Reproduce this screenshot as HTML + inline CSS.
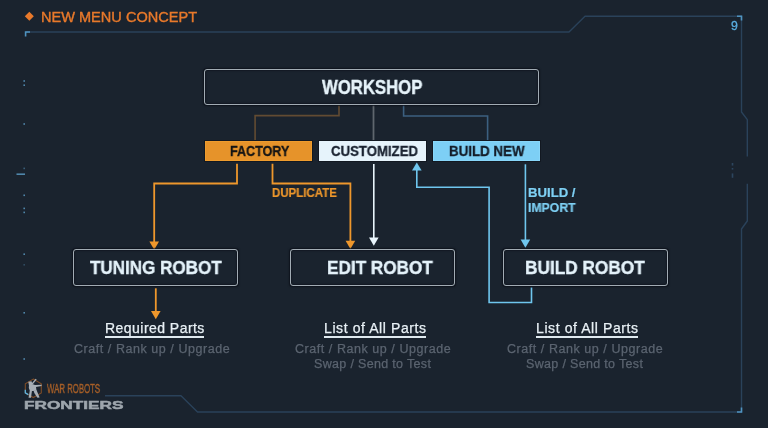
<!DOCTYPE html>
<html><head><meta charset="utf-8">
<style>
html,body{margin:0;padding:0;}
body{width:768px;height:428px;background:#1a232e;position:relative;overflow:hidden;font-family:"Liberation Sans",sans-serif;}
svg{position:absolute;left:0;top:0;}
.t{position:absolute;white-space:nowrap;line-height:1;will-change:transform;}
.b{font-weight:bold;}
.box{position:absolute;box-sizing:border-box;border:1.6px solid #a2acb4;border-radius:3px;box-shadow:0 0 1.5px 0.5px rgba(8,12,20,0.7), inset 0 0 1.5px 0.5px rgba(8,12,20,0.7);}
.tag{position:absolute;box-sizing:border-box;}
</style></head><body>
<svg width="768" height="428" viewBox="0 0 768 428">
  <!-- frame -->
  <g fill="none" stroke="#2a425a" stroke-width="1.4" stroke-linejoin="round">
    <path d="M26,32 H569 L585,16.3 H741.5 V112 L747.3,119.7 V156.5"/>
    <path d="M747.3,183.8 V221 L741.5,229 V412 H197.5 L181,395.8 H105"/>
  </g>
  <g fill="none" stroke="#4f93c0" stroke-width="1.6">
    <path d="M25.6,36.5 V32 H30"/>
    <path d="M737,16.3 H741.5 V20.5"/>
    <path d="M737,412 H741.5 V407.5"/>
  </g>
  <!-- left dots -->
  <g fill="#4f86aa">
    <rect x="23.4" y="80.2" width="1.6" height="1.6"/>
    <rect x="23.4" y="84.4" width="1.6" height="1.6"/>
    <rect x="23.4" y="123.2" width="1.6" height="1.6"/>
    <rect x="23.4" y="167.6" width="1.6" height="1.6" opacity="0.6"/>
    <rect x="16.5" y="173.4" width="8.5" height="1.6"/>
    <rect x="23.4" y="194.5" width="1.6" height="1.6"/>
    <rect x="23.4" y="207.6" width="1.6" height="1.6"/>
    <rect x="23.4" y="211.6" width="1.6" height="1.6"/>
    <rect x="23.4" y="253.4" width="1.6" height="1.6"/>
    <rect x="23.4" y="264" width="1.6" height="1.6" opacity="0.4"/>
    <rect x="23.4" y="312" width="1.6" height="1.6"/>
    <rect x="23.4" y="358.2" width="1.6" height="1.6"/>
  </g>
  <!-- right markers -->
  <g fill="#2c455e">
    <rect x="731.7" y="163" width="1.6" height="2.6"/>
    <rect x="731.7" y="168" width="1.6" height="1.6"/>
    <rect x="731.7" y="173.4" width="1.6" height="4.4"/>
  </g>
  <!-- diamond -->
  <path d="M29.3,11.7 L33.8,16.3 L29.3,20.8 L24.8,16.3 Z" fill="#e8792b"/>

  <!-- connectors workshop -> tags -->
  <path d="M339,105.5 V115.6 H255.1 V141.5" fill="none" stroke="#624b32" stroke-width="1.6"/>
  <path d="M373.5,105.5 V141.5" fill="none" stroke="#5f666e" stroke-width="1.8"/>
  <path d="M403.6,105.5 V116 H487.6 V141.5" fill="none" stroke="#3c6080" stroke-width="1.6"/>

  <!-- orange from factory -->
  <g fill="none" stroke="#ee972c" stroke-width="1.8">
    <path d="M237,163.8 V183.5 H154.2 V242"/>
    <path d="M272.5,163.8 V183.5 H350.4 V241"/>
    <path d="M155.8,288.3 V312"/>
  </g>
  <g fill="#ee972c">
    <path d="M149.4,241.5 H159 L154.2,249.8 Z"/>
    <path d="M345.6,240.7 H355.2 L350.4,249 Z"/>
    <path d="M151,311 H160.6 L155.8,319.2 Z"/>
  </g>
  <!-- white arrow customized -->
  <path d="M373.8,164 V238" fill="none" stroke="#e8f4fb" stroke-width="1.6"/>
  <path d="M369,237.4 H378.6 L373.8,245.8 Z" fill="#e8f4fb"/>
  <!-- blue arrows -->
  <g fill="none" stroke="#6fc6ee" stroke-width="1.6">
    <path d="M525.4,164.3 V240"/>
    <path d="M531.5,287.5 V302.5 H489.1 V187.3 H416.8 V170"/>
  </g>
  <g fill="#6fc6ee">
    <path d="M520.6,239.4 H530.2 L525.4,247.8 Z"/>
    <path d="M412,170.6 H421.6 L416.8,162.4 Z"/>
  </g>
</svg>

<!-- header -->
<div class="t" style="left:40.78px;top:9.6px;font-size:14.3px;-webkit-text-stroke:0.4px #e8792b;transform:scaleX(1.018);transform-origin:0 0;color:#e8792b;">NEW MENU CONCEPT</div>
<div class="t" style="left:730.5px;top:20.2px;font-size:12.3px;-webkit-text-stroke:0.3px #5aaee0;transform:scaleX(1.0);transform-origin:0 0;color:#5aaee0;">9</div>

<!-- workshop -->
<div class="box" style="left:203.9px;top:68.5px;width:335.5px;height:36.8px;"></div>
<div class="t b" style="left:322.2px;top:77.6px;font-size:19.5px;-webkit-text-stroke:0.4px #e6f3fa;transform:scaleX(0.858);transform-origin:0 0;color:#e6f3fa;">WORKSHOP</div>

<!-- tags -->
<div class="tag" style="left:205px;top:141.3px;width:106.7px;height:19.7px;background:#e6932a;box-shadow:0 0 0 1px #121821, inset 0 0 0 1px #ee9c2e;"></div>
<div class="t b" style="left:229.63px;top:144px;font-size:14.5px;-webkit-text-stroke:0.3px #141414;transform:scaleX(0.867);transform-origin:0 0;color:#141414;">FACTORY</div>
<div class="tag" style="left:318.9px;top:141.3px;width:106.8px;height:19.7px;background:#e6f3fb;box-shadow:0 0 0 1px #121821;"></div>
<div class="t b" style="left:330.99px;top:144px;font-size:14.5px;-webkit-text-stroke:0.3px #1a2230;transform:scaleX(0.911);transform-origin:0 0;color:#1a2230;">CUSTOMIZED</div>
<div class="tag" style="left:432.9px;top:141.3px;width:106.9px;height:19.7px;background:#7dcff5;box-shadow:0 0 0 1px #121821, inset 0 0 0 1px #88d6f9;"></div>
<div class="t b" style="left:449.38px;top:144px;font-size:14.5px;-webkit-text-stroke:0.3px #141c28;transform:scaleX(0.92);transform-origin:0 0;color:#141c28;">BUILD NEW</div>

<div class="t b" style="left:271.6px;top:187px;font-size:12.7px;-webkit-text-stroke:0.2px #ee972c;transform:scaleX(0.905);transform-origin:0 0;color:#ee972c;">DUPLICATE</div>
<div class="t b" style="left:528.06px;top:186.75px;font-size:12.7px;-webkit-text-stroke:0.2px #7ed0f4;transform:scaleX(1.036);transform-origin:0 0;color:#7ed0f4;">BUILD /</div>
<div class="t b" style="left:528.14px;top:201.75px;font-size:12.7px;-webkit-text-stroke:0.2px #7ed0f4;transform:scaleX(0.965);transform-origin:0 0;color:#7ed0f4;">IMPORT</div>

<!-- robot boxes -->
<div class="box" style="left:72.5px;top:249.2px;width:165.0px;height:36.9px;"></div>
<div class="t b" style="left:90.0px;top:257.9px;font-size:19px;-webkit-text-stroke:0.4px #e4f2fa;transform:scaleX(0.898);transform-origin:0 0;color:#e4f2fa;">TUNING ROBOT</div>
<div class="box" style="left:290.3px;top:249.2px;width:165.2px;height:36.9px;"></div>
<div class="t b" style="left:327.3px;top:258px;font-size:19px;-webkit-text-stroke:0.4px #e4f2fa;transform:scaleX(0.903);transform-origin:0 0;color:#e4f2fa;">EDIT ROBOT</div>
<div class="box" style="left:502.9px;top:249.2px;width:164.7px;height:36.9px;"></div>
<div class="t b" style="left:524.99px;top:258px;font-size:19px;-webkit-text-stroke:0.4px #e4f2fa;transform:scaleX(0.908);transform-origin:0 0;color:#e4f2fa;">BUILD ROBOT</div>

<!-- captions -->
<div class="t" style="left:104.6px;top:321px;font-size:14px;letter-spacing:0.46px;color:#e8f0f5;-webkit-text-stroke:0.25px #e8f0f5;">Required Parts</div>
<div style="position:absolute;left:105px;top:336.1px;width:99px;height:1.8px;background:#dfe9ef;"></div>
<div class="t" style="left:73.6px;top:343.2px;font-size:12.5px;letter-spacing:0.55px;color:#5b6470;-webkit-text-stroke:0.25px #5b6470;">Craft / Rank up / Upgrade</div>

<div class="t" style="left:323.7px;top:320.6px;font-size:14px;letter-spacing:0.59px;color:#e8f0f5;-webkit-text-stroke:0.25px #e8f0f5;">List of All Parts</div>
<div style="position:absolute;left:324px;top:336.1px;width:101.6px;height:1.8px;background:#dfe9ef;"></div>
<div class="t" style="left:294.7px;top:343.2px;font-size:12.5px;letter-spacing:0.55px;color:#5b6470;-webkit-text-stroke:0.25px #5b6470;">Craft / Rank up / Upgrade</div>
<div class="t" style="left:314px;top:358.3px;font-size:12.5px;letter-spacing:0.33px;color:#5b6470;-webkit-text-stroke:0.25px #5b6470;">Swap / Send to Test</div>

<div class="t" style="left:536.1px;top:320.6px;font-size:14px;letter-spacing:0.59px;color:#e8f0f5;-webkit-text-stroke:0.25px #e8f0f5;">List of All Parts</div>
<div style="position:absolute;left:536.1px;top:336.1px;width:101.7px;height:1.8px;background:#dfe9ef;"></div>
<div class="t" style="left:507.1px;top:343.2px;font-size:12.5px;letter-spacing:0.55px;color:#5b6470;-webkit-text-stroke:0.25px #5b6470;">Craft / Rank up / Upgrade</div>
<div class="t" style="left:526.3px;top:358.3px;font-size:12.5px;letter-spacing:0.33px;color:#5b6470;-webkit-text-stroke:0.25px #5b6470;">Swap / Send to Test</div>

<!-- logo -->
<svg width="768" height="428" viewBox="0 0 768 428" style="position:absolute;left:0;top:0;">
  <path d="M33.3,379.1 L41.3,383.7 V392.9 L33.3,397.5 L25.3,392.9 V383.7 Z" fill="none" stroke="#7e4c26" stroke-width="1.1"/>
  <path d="M25.3,389.8 V392.9 L28.3,394.6" fill="none" stroke="#5eb4e0" stroke-width="1.3"/>
  <g fill="#a7afb6">
  <path d="M30.8,384.6 L35.6,378.7 L36.7,379.5 L32,385.3 Z"/>
  <path d="M28.3,381.8 L31.5,381.3 L32.3,383.5 L31.5,385.5 L29,385.5 Z"/>
  <path d="M29,385 L33,384.2 L35,385 L41.6,384.7 L41.6,386 L36,387 L36.5,390.5 L33,391 L30,391 L28.8,388 Z"/>
  <path d="M29.8,390.5 L32,390.5 L31,397.8 L28.6,397.8 Z"/>
  <path d="M33.5,390.5 L36.5,390 L39.6,397.4 L37.4,397.8 L34.3,393 Z"/>
  </g>
</svg>
<div class="t" style="left:46.5px;top:383.4px;font-size:12px;-webkit-text-stroke:0.45px #a65f28;color:#a65f28;transform:scaleX(0.651);transform-origin:0 0;">WAR ROBOTS</div>
<div class="t b" style="left:23.5px;top:400.3px;font-size:11.8px;-webkit-text-stroke:0.5px #9ea6ad;color:#9ea6ad;transform:scaleX(1.46);transform-origin:0 0;">FRONTIERS</div>
</body></html>
